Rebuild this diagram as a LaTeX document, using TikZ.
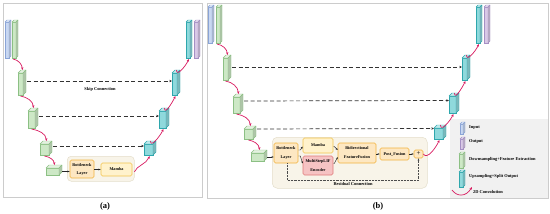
\documentclass[tikz,border=0pt]{standalone}
\usepackage{fontspec}
\setmainfont{Liberation Serif}
\usetikzlibrary{arrows.meta,calc}
\definecolor{inblue}{HTML}{C9D8F2}\definecolor{inblueD}{HTML}{8AA4D6}
\definecolor{outpur}{HTML}{D9C9E6}\definecolor{outpurD}{HTML}{A58FC4}
\definecolor{dngreen}{HTML}{CDE8C6}\definecolor{dngreenD}{HTML}{8CC084}
\definecolor{upcyan}{HTML}{8FD9DC}\definecolor{upcyanD}{HTML}{2EA7AD}
\definecolor{convred}{HTML}{D81B60}
\definecolor{bgfill}{HTML}{F8F4E9}\definecolor{bgdraw}{HTML}{E4DECB}
\definecolor{orfill}{HTML}{FDE7C2}\definecolor{ordraw}{HTML}{F2B33D}
\definecolor{mafill}{HTML}{FFF2CC}\definecolor{madraw}{HTML}{F2C44D}
\definecolor{lifill}{HTML}{F6C3C3}\definecolor{lidraw}{HTML}{E07A7A}
\definecolor{legfill}{HTML}{F1F1F1}
\definecolor{frame}{HTML}{CCCCCC}
\newcommand\cuboid[8]{%
  \node[draw=#8, fill=#7, minimum width=#4pt, minimum height=#5pt, inner sep=0pt, outer sep=0pt, anchor=north west, line width=0.4pt] (#1) at (#2,#3) {};
  \filldraw[draw=#8, fill=#7!55!white, line width=0.4pt, line join=round] (#1.north west) -- ++(#6,-#6) -- ++(#4,0) -- (#1.north east) -- cycle;
  \filldraw[draw=#8, fill=#7!85!black, line width=0.4pt, line join=round] (#1.north east) -- ++(#6,-#6) -- ++(0,#5) -- (#1.south east) -- cycle;
}
\tikzset{
  conv/.style={draw=convred, line width=0.7pt, -{Stealth[length=2.8pt,width=2.4pt]}},
  skip/.style={draw=black!80, dash pattern=on 4pt off 2.5pt, line width=0.7pt, -{Stealth[length=2.8pt,width=2.4pt]}},
  arr/.style={draw=black!85, line width=0.45pt, -{Stealth[length=2.2pt,width=1.8pt]}},
  lbl/.style={font=\bfseries\fontsize{4.4}{5}\selectfont, inner sep=0pt},
  box/.style={draw, rounded corners=1.5pt, line width=0.6pt, align=center, inner sep=0pt, font=\bfseries\fontsize{4.2}{5}\selectfont},
}
\begin{document}
\begin{tikzpicture}[x=1pt,y=-1pt]
\useasboundingbox (0,0) rectangle (550,214);
% frames
\draw[frame, line width=0.5pt] (3,3) rectangle (202,197);
\draw[frame, line width=0.5pt] (207,3) rectangle (548,198);
\node[font=\bfseries\fontsize{8.5}{9}\selectfont, inner sep=0] (la) at (105,206) {(a)};
\node[font=\bfseries\fontsize{8.5}{9}\selectfont, inner sep=0] (lb) at (378,206) {(b)};

% ================= panel (a)
\node[draw=bgdraw, fill=bgfill, rounded corners=4pt, minimum width=67pt, minimum height=25pt, anchor=north west, line width=0.5pt] (abg) at (67,156) {};
\cuboid{ain}{5}{22}{4}{36}{2}{inblue}{inblueD}
\cuboid{ag0}{12}{22}{4}{36}{2}{dngreen}{dngreenD}
\cuboid{ag1}{18}{73}{5}{22}{3}{dngreen}{dngreenD}
\cuboid{ag2}{28}{111}{7}{17}{3}{dngreen}{dngreenD}
\cuboid{ag3}{40}{144}{9}{11}{3}{dngreen}{dngreenD}
\cuboid{ag4}{46}{168}{13}{7}{3}{dngreen}{dngreenD}
\cuboid{ac3}{144}{144}{9}{11}{3}{upcyan}{upcyanD}
\cuboid{ac2}{159}{111}{7}{17}{3}{upcyan}{upcyanD}
\cuboid{ac1}{172}{73}{5}{22}{3}{upcyan}{upcyanD}
\cuboid{ac0}{186}{22}{4}{36}{2}{upcyan}{upcyanD}
\cuboid{aout}{194}{22}{4}{36}{2}{outpur}{outpurD}

\node[box, draw=ordraw, fill=orfill, minimum width=24pt, minimum height=18pt] (abn) at (82,169) {Bottleneck\\[3pt]Layer};
\node[box, draw=madraw, fill=mafill, minimum width=31pt, minimum height=13pt] (ama) at (116.5,169.5) {Mamba};
\draw[arr] ([xshift=3pt]ag4.east) -- (abn.west |- ag4.east);
\draw[arr] (abn.east |- ama.west) -- (ama.west);

\draw[skip] ([xshift=4pt,yshift=3pt]ag1.east) -- ([yshift=3pt]ac1.west);
\draw[skip] ([xshift=4pt,yshift=3.5pt]ag2.east) -- ([yshift=3.5pt]ac2.west);
\draw[skip] ([xshift=4pt,yshift=3.5pt]ag3.east) -- ([yshift=3.5pt]ac3.west);
\node[lbl] (askip) at (100,89) {Skip Connection};

\draw[conv] ([xshift=-1pt,yshift=-1pt]ag0.south) to[out=-10,in=95] ([xshift=2pt,yshift=3pt]ag1.north);
\draw[conv] ([yshift=-1pt]ag1.south) to[out=-10,in=95] ([xshift=2pt,yshift=3pt]ag2.north);
\draw[conv] ([yshift=-1pt]ag2.south) to[out=-10,in=95] ([xshift=2pt,yshift=3pt]ag3.north);
\draw[conv] ([yshift=-1pt]ag3.south) to[out=-10,in=95] ([xshift=2pt,yshift=3pt]ag4.north);
\draw[conv] ([yshift=-3pt]abg.east) .. controls +(2,-6) and +(-3,8) .. ([xshift=1pt,yshift=-1pt]ac3.south);
\draw[conv] ([xshift=2pt,yshift=3pt]ac3.north) .. controls +(0,7) and +(-4,8) .. ([xshift=1pt,yshift=-1pt]ac2.south);
\draw[conv] ([xshift=2pt,yshift=3pt]ac2.north) .. controls +(0,7) and +(-4,8) .. ([xshift=1pt,yshift=-1pt]ac1.south);
\draw[conv] ([xshift=2pt,yshift=3pt]ac1.north) .. controls +(0,7) and +(-4,8) .. ([xshift=1pt,yshift=-1pt]ac0.south);

% ================= panel (b)
\node[draw=none, fill=legfill, minimum width=98pt, minimum height=79pt, anchor=north west, inner sep=0] (leg) at (450,119) {};
\node[draw=bgdraw, fill=bgfill, rounded corners=5pt, minimum width=155pt, minimum height=51pt, anchor=north west, line width=0.5pt] (bbg) at (272,137) {};
\cuboid{bin}{208}{7}{4}{36}{2}{inblue}{inblueD}
\cuboid{bg0}{216}{7}{4}{36}{2}{dngreen}{dngreenD}
\cuboid{bg1}{223}{58}{5}{22}{3}{dngreen}{dngreenD}
\cuboid{bg2}{233}{97}{7}{16}{3}{dngreen}{dngreenD}
\cuboid{bg3}{244}{129}{9}{10}{3}{dngreen}{dngreenD}
\cuboid{bg4}{251}{153}{13}{8}{3}{dngreen}{dngreenD}
\cuboid{bc3}{434}{128}{9}{11}{3}{upcyan}{upcyanD}
\cuboid{bc2}{449}{96}{7}{17}{3}{upcyan}{upcyanD}
\cuboid{bc1}{462}{58}{5}{22}{3}{upcyan}{upcyanD}
\cuboid{bc0}{476}{7}{4}{36}{2}{upcyan}{upcyanD}
\cuboid{bout}{484}{7}{4}{36}{2}{outpur}{outpurD}

\draw[skip] ([xshift=4pt,yshift=2pt]bg1.east) -- ([yshift=2pt]bc1.west);
\draw[skip] ([xshift=4pt,yshift=4pt]bg2.east) -- ([yshift=4pt]bc2.west);
\draw[skip] ([xshift=4pt,yshift=5pt]bg3.east) -- ([yshift=5pt]bc3.west);

\node[box, draw=ordraw, fill=orfill, minimum width=24pt, minimum height=20pt] (bbn) at (286,153) {Bottleneck\\[4pt]Layer};
\node[box, draw=madraw, fill=mafill, minimum width=30pt, minimum height=15pt] (bma) at (318,145.5) {Mamba};
\node[box, draw=lidraw, fill=lifill, minimum width=30pt, minimum height=19pt] (blif) at (318,165.5) {MultiStepLIF\\[4pt]Encoder};
\node[box, draw=ordraw, fill=orfill, minimum width=38pt, minimum height=20pt] (bbf) at (357,153) {Bidirectional\\[4pt]FeatureFusion};
\node[box, draw=ordraw, fill=orfill, minimum width=29pt, minimum height=12pt] (bpf) at (394.5,154) {Post\_Fusion};
\node[box, draw=ordraw, fill=orfill, minimum width=9pt, minimum height=8pt, font=\fontsize{7}{7}\selectfont] (bplus) at (418.5,154) {+};

\draw[arr] ([xshift=3pt]bg4.east) -- (bbn.west |- bg4.east);
\draw[arr] ([yshift=3pt]bbn.east) -- ++(2,0) -- ([yshift=-1pt]bma.west);
\draw[arr] ([yshift=-3pt]bbn.east) -- ++(2,0) -- ([yshift=2pt]blif.west);
\draw[arr] ([yshift=-1pt]bma.east) -- ++(1,0) -- ([yshift=3pt]bbf.west);
\draw[arr] ([yshift=2pt]blif.east) -- ++(1,0) -- ([yshift=-4pt]bbf.west);
\draw[arr] (bbf.east |- bpf.west) -- (bpf.west);
\draw[arr] (bpf.east) -- (bplus.west);
\coordinate (rc1) at (287,180);
\coordinate (rc2) at (418.5,180);
\draw[arr, densely dotted, draw=black!70] (bbn.south -| rc1) -- (rc1) -- (rc2) -- (bplus.south);
\node[lbl] (bres) at (353,184) {Residual Connection};

\draw[conv] ([xshift=-1pt,yshift=-1pt]bg0.south) to[out=-10,in=95] ([xshift=2pt,yshift=3pt]bg1.north);
\draw[conv] ([yshift=-1pt]bg1.south) to[out=-10,in=95] ([xshift=2pt,yshift=3pt]bg2.north);
\draw[conv] ([yshift=-1pt]bg2.south) to[out=-10,in=95] ([xshift=2pt,yshift=3pt]bg3.north);
\draw[conv] ([yshift=-1pt]bg3.south) to[out=-10,in=95] ([xshift=2pt,yshift=3pt]bg4.north);
\draw[conv] (bplus.east) .. controls +(4,6) and +(-4,8) .. ([xshift=1pt,yshift=-1pt]bc3.south);
\draw[conv] ([xshift=2pt,yshift=3pt]bc3.north) .. controls +(0,7) and +(-4,8) .. ([xshift=1pt,yshift=-1pt]bc2.south);
\draw[conv] ([xshift=2pt,yshift=3pt]bc2.north) .. controls +(0,7) and +(-4,8) .. ([xshift=1pt,yshift=-1pt]bc1.south);
\draw[conv] ([xshift=2pt,yshift=3pt]bc1.north) .. controls +(0,7) and +(-4,8) .. ([xshift=1pt,yshift=-1pt]bc0.south);

% legend
\cuboid{lin}{460}{124}{3}{10}{2}{inblue}{inblueD}
\cuboid{lout}{460}{139}{3}{10}{2}{outpur}{outpurD}
\cuboid{ldn}{459}{154}{4}{14}{2}{dngreen}{dngreenD}
\cuboid{lup}{459}{172}{4}{15}{2}{upcyan}{upcyanD}
\node[lbl, anchor=west] (tin) at (469,128) {Input};
\node[lbl, anchor=west] (tout) at (469,142) {Output};
\node[lbl, anchor=west] (tdn) at (469,159.5) {Downsampling+Feature Extraction};
\node[lbl, anchor=west] (tup) at (469,176) {Upsampling+Split Output};
\node[lbl, anchor=west] (tcv) at (473,192) {2D Convolution};
\coordinate (cv1) at (452,190);
\coordinate (cv2) at (472,187);
\draw[conv] (cv1) .. controls (457,197) and (466,197) .. (cv2);
\end{tikzpicture}
\end{document}
